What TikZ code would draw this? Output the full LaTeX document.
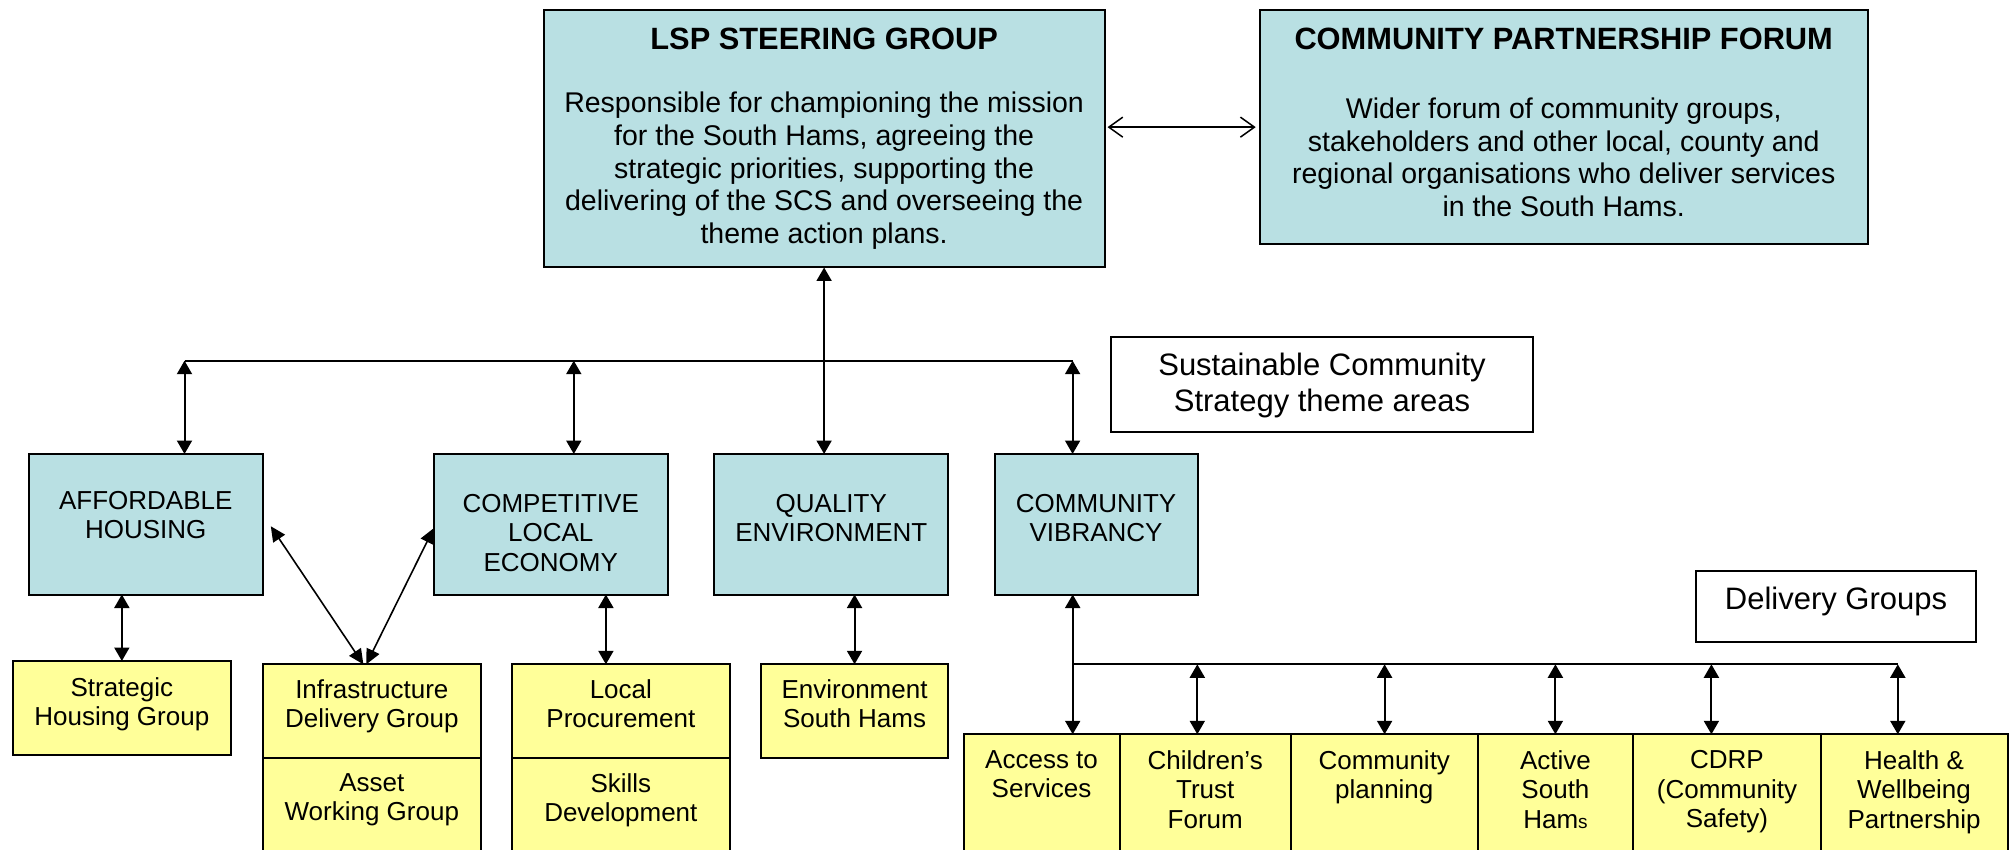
\documentclass[tikz,border=0pt]{standalone}
\usepackage{fontspec}
\setmainfont{Liberation Sans}
\usetikzlibrary{arrows.meta,calc}
\definecolor{boxblue}{RGB}{185,224,227}
\definecolor{boxyellow}{RGB}{255,255,153}
\tikzset{
  box/.style={draw=black, line width=2pt, inner sep=0pt, outer sep=0pt, anchor=north west},
  bluebox/.style={box, fill=boxblue},
  yellowbox/.style={box, fill=boxyellow},
  whitebox/.style={box, fill=white},
  titletxt/.style={inner sep=0pt, anchor=base, font=\bfseries\fontsize{30.8}{36}\selectfont},
  bodytxt/.style={inner sep=0pt, anchor=north, align=center, font=\fontsize{28.5}{32.6}\selectfont},
  smalltxt/.style={inner sep=0pt, anchor=north, align=center, font=\fontsize{26}{29.3}\selectfont},
  labeltxt/.style={inner sep=0pt, anchor=north, align=center, font=\fontsize{31}{35.7}\selectfont},
  busline/.style={line width=2pt},
  both/.style={line width=2pt, {Triangle[length=13.5pt,width=15pt]}-{Triangle[length=13.5pt,width=15pt]}},
  bothd/.style={line width=1.6pt, {Triangle[length=15pt,width=14pt]}-{Triangle[length=15pt,width=14pt]}},
  openarrow/.style={line width=1.5pt, {Straight Barb[length=14pt,width=20pt]}-{Straight Barb[length=14pt,width=20pt]}}
}
\begin{document}
\begin{tikzpicture}[x=1pt,y=-1pt]
\useasboundingbox (0,0) rectangle (2013,850);

% top boxes
\node[bluebox, minimum width=560.8pt, minimum height=257.5pt] (lsp) at (543.7,10) {};
\node[bluebox, minimum width=607.9pt, minimum height=234.3pt] (cpf) at (1259.7,10) {};
\node[titletxt] (lspT) at (824.1,49.3) {LSP STEERING GROUP};
\node[bodytxt] (lspB) at (824.1,92.0) {Responsible for championing the mission\\for the South Hams, agreeing the\\strategic priorities, supporting the\\delivering of the SCS and overseeing the\\theme action plans.};
\node[titletxt] (cpfT) at (1563.7,49.3) {COMMUNITY PARTNERSHIP FORUM};
\node[bodytxt] (cpfB) at (1563.7,97.8) {Wider forum of community groups,\\stakeholders and other local, county and\\regional organisations who deliver services\\in the South Hams.};

% label boxes
\node[whitebox, minimum width=422pt, minimum height=95pt] (sust) at (1111,336.7) {};
\node[labeltxt] (sustT) at (1322,352.7) {Sustainable Community\\Strategy theme areas};
\node[whitebox, minimum width=280.6pt, minimum height=70.7pt] (dg) at (1695.8,571) {};
\node[labeltxt, anchor=base] (dgT) at (1836,609) {Delivery Groups};

% theme boxes
\node[bluebox, minimum width=234.1pt, minimum height=140.5pt] (aff) at (28.7,454) {};
\node[bluebox, minimum width=234pt, minimum height=140.5pt] (comp) at (433.7,454) {};
\node[bluebox, minimum width=234pt, minimum height=140.5pt] (qual) at (714.3,454) {};
\node[bluebox, minimum width=202.8pt, minimum height=140.5pt] (cv) at (994.7,454) {};
\node[smalltxt] (affT) at (145.75,491.3) {AFFORDABLE\\HOUSING};
\node[smalltxt] (compT) at (550.7,494.3) {COMPETITIVE\\LOCAL\\ECONOMY};
\node[smalltxt] (qualT) at (831.3,494.3) {QUALITY\\ENVIRONMENT};
\node[smalltxt] (cvT) at (1096.1,494.3) {COMMUNITY\\VIBRANCY};

% yellow groups
\node[yellowbox, minimum width=218.1pt, minimum height=94pt] (shg) at (12.8,661) {};
\node[yellowbox, minimum width=218.1pt, minimum height=94pt] (idg) at (262.8,664.3) {};
\node[yellowbox, minimum width=218.1pt, minimum height=101.7pt] (awg) at (262.8,758.3) {};
\node[yellowbox, minimum width=217.5pt, minimum height=94pt] (lp) at (512.1,664.3) {};
\node[yellowbox, minimum width=217.5pt, minimum height=101.7pt] (sd) at (512.1,758.3) {};
\node[yellowbox, minimum width=187.5pt, minimum height=94pt] (esh) at (760.8,664.3) {};
\node[smalltxt] (shgT) at (121.85,677) {Strategic\\Housing Group};
\node[smalltxt] (idgT) at (371.85,679.6) {Infrastructure\\Delivery Group};
\node[smalltxt] (awgT) at (371.85,773) {Asset\\Working Group};
\node[smalltxt] (lpT) at (620.85,679.6) {Local\\Procurement};
\node[smalltxt] (sdT) at (620.85,773) {Skills\\Development};
\node[smalltxt] (eshT) at (854.55,679.6) {Environment\\South Hams};

% delivery row
\node[yellowbox, minimum width=155.9pt, minimum height=125.7pt] (ats) at (963.6,734.3) {};
\node[yellowbox, minimum width=171.5pt, minimum height=125.7pt] (ctf) at (1119.5,734.3) {};
\node[yellowbox, minimum width=186.5pt, minimum height=125.7pt] (cp) at (1291,734.3) {};
\node[yellowbox, minimum width=155.9pt, minimum height=125.7pt] (ash) at (1477.5,734.3) {};
\node[yellowbox, minimum width=187.1pt, minimum height=125.7pt] (cdrp) at (1633.4,734.3) {};
\node[yellowbox, minimum width=187.1pt, minimum height=125.7pt] (hwp) at (1820.5,734.3) {};
\node[smalltxt] (atsT) at (1041.55,750.6) {Access to\\Services};
\node[smalltxt] (ctfT) at (1205.25,750.6) {Children’s\\Trust\\Forum};
\node[smalltxt] (cpT) at (1384.25,750.6) {Community\\planning};
\node[smalltxt] (ashT) at (1555.45,750.6) {Active\\South\\Ham{\fontsize{19}{19}\selectfont s}};
\node[smalltxt] (cdrpT) at (1726.95,750.6) {CDRP\\(Community\\Safety)};
\node[smalltxt] (hwpT) at (1914.05,750.6) {Health \&\\Wellbeing\\Partnership};

% connectors top
\draw[openarrow, shorten <=3pt, shorten >=4pt] (cpf.west -| lsp.east) -- (cpf.west);
\draw[both] (lsp.south) -- (lsp.south |- qual.north);

\coordinate (busA) at (184.5,360.7);
\coordinate (busB) at (573.8,360.7);
\coordinate (busC) at (1072.6,360.7);
\draw[busline] (busA) -- (busC);
\draw[both] (busA) -- (busA |- aff.north);
\draw[both] (busB) -- (busB |- comp.north);
\draw[both] (busC) -- (busC |- cv.north);

% theme to groups
\draw[both] (shg.north |- aff.south) -- (shg.north);
\coordinate (lpx) at (605.9,600);
\draw[both] (lpx |- comp.south) -- (lpx |- lp.north);
\draw[both] (esh.north |- qual.south) -- (esh.north);
\draw[bothd] ($(aff.east)+(8,2)$) -- ($(idg.north)+(-8.5,0)$);
\draw[bothd] ($(comp.west)+(0,4)$) -- ($(idg.north)+(-5.5,0)$);

% delivery bus
\coordinate (busD) at (1072.7,664.3);
\coordinate (busE) at (1897.8,664.3);
\draw[both] (busD |- cv.south) -- (busD |- ats.north);
\draw[busline] (busD) -- (busE);
\foreach \xx/\nn in {1197.3/ctf,1384.6/cp,1555.4/ash,1711.4/cdrp,1897.8/hwp}{
  \coordinate (tap) at (\xx,664.3);
  \draw[both] (tap) -- (tap |- \nn.north);
}
\end{tikzpicture}
\end{document}
